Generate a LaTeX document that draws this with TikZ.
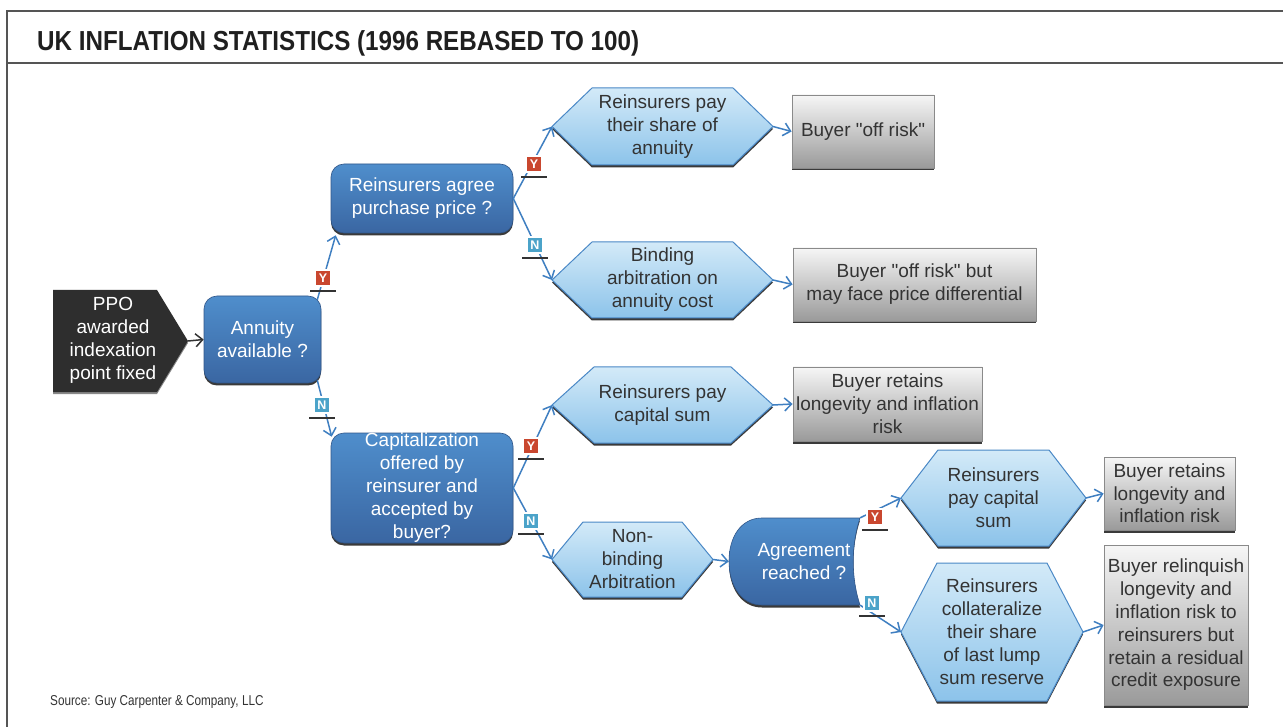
\documentclass[tikz,border=0pt]{standalone}
\usepackage{fontspec}
\setmainfont{Liberation Sans}
\newfontfamily\titlefont[FakeStretch=0.88]{Liberation Sans}
\newfontfamily\srcfont[FakeStretch=0.82]{Liberation Sans}
\usetikzlibrary{arrows.meta,shadows,calc}
\definecolor{bluetop}{HTML}{4F8ECC}
\definecolor{bluebot}{HTML}{3A66A2}
\definecolor{hextop}{HTML}{D3EAF8}
\definecolor{hexbot}{HTML}{8CC3EA}
\definecolor{hexline}{HTML}{4A88C6}
\definecolor{graytop}{HTML}{F6F6F6}
\definecolor{graybot}{HTML}{9A9A9A}
\definecolor{grayline}{HTML}{8A8A8A}
\definecolor{connc}{HTML}{3F7FC1}
\definecolor{ycol}{HTML}{C9472F}
\definecolor{ncol}{HTML}{4BA3C9}
\definecolor{txtc}{HTML}{333333}
\definecolor{framec}{HTML}{555555}
\definecolor{ppoc}{HTML}{2E2E2E}
\definecolor{shadc}{HTML}{3A3A3A}
\newcommand{\dq}{\XeTeXglyph\XeTeXcharglyph"22\relax}
\tikzset{
  maintext/.style={font=\fontsize{19}{23}\selectfont, align=center},
  bluebox/.style={maintext, rectangle, rounded corners=13pt, top color=bluetop, bottom color=bluebot,
    draw=bluebot!85!black, line width=0.6pt, text=white, inner sep=0pt,
    drop shadow={shadow xshift=0pt, shadow yshift=-2.5pt, fill=shadc, opacity=1}},
  graybox/.style={maintext, rectangle, top color=graytop, bottom color=graybot, draw=grayline,
    line width=0.8pt, text=txtc, inner sep=0pt,
    drop shadow={shadow xshift=0pt, shadow yshift=-2.5pt, fill=shadc, opacity=1}},
  hexfill/.style={top color=hextop, bottom color=hexbot, draw=hexline, line width=1pt},
  hextext/.style={maintext, text=txtc, inner sep=0pt},
  conn/.style={draw=connc, line width=1.5pt, -{Straight Barb[length=7pt,width=13pt]}},
  pconn/.style={draw=txtc, line width=1.5pt, -{Straight Barb[length=7pt,width=13pt]}},
  ynbox/.style={minimum size=16pt, inner sep=0pt, text=white,
    font=\bfseries\fontsize{12.5}{12.5}\selectfont, draw=white, line width=1.2pt,
    drop shadow={shadow xshift=1pt, shadow yshift=-1pt, fill=black!25, opacity=1}},
  ulst/.style={draw=txtc, line width=2.2pt},
}
% hexagon: name, xleft, xright, ytop, ybottom, slant, text
\newcommand{\hexagonbox}[7]{%
  \fill[shadc] ({#2},{(#4+#5)/2+2.5}) -- ({#2+#6},{#5+2.5}) -- ({#3-#6},{#5+2.5})
     -- ({#3},{(#4+#5)/2+2.5}) -- ({#3-#6},{#4+2.5}) -- ({#2+#6},{#4+2.5}) -- cycle;
  \shadedraw[hexfill] ({#2},{(#4+#5)/2}) -- ({#2+#6},{#4}) -- ({#3-#6},{#4})
     -- ({#3},{(#4+#5)/2}) -- ({#3-#6},{#5}) -- ({#2+#6},{#5}) -- cycle;
  \node[hextext] (#1) at ({(#2+#3)/2},{(#4+#5)/2}) {#7};
  \coordinate (#1w) at ({#2},{(#4+#5)/2});
  \coordinate (#1e) at ({#3},{(#4+#5)/2});
}
% Y/N label: name, letter, colour, x, y
\newcommand{\ynlabel}[5]{%
  \node[ynbox, fill=#3] (#1) at (#4,#5) {#2};
  \draw[ulst] ([xshift=-13pt,yshift=-4.5pt]#1.south) -- ([xshift=13pt,yshift=-4.5pt]#1.south);
}
\begin{document}
\begin{tikzpicture}[x=1pt,y=-1pt]
\useasboundingbox (0,0) rectangle (1283,727);
\fill[white] (0,0) rectangle (1283,727);
% frame
\draw[framec, line width=1.5pt] (1284,11) -- (7,11) -- (7,728);
\draw[framec, line width=1.2pt] (7,63) -- (1284,63);
\node[anchor=base west, inner sep=0pt, text=black!88,
  font=\titlefont\bfseries\fontsize{27.5}{30}\selectfont] (title) at (37,51)
  {UK INFLATION STATISTICS (1996 REBASED TO 100)};
\node[anchor=base west, inner sep=0pt, text=txtc,
  font=\srcfont\fontsize{14.3}{16}\selectfont] (source) at (50,705)
  {Source: Guy Carpenter \& Company, LLC};

% PPO
\fill[shadc!60] (53,292) -- (157,292) -- (188,343) -- (157,394) -- (53,394) -- cycle;
\fill[ppoc] (53,290) -- (157,290) -- (188,341) -- (157,392) -- (53,392) -- cycle;
\node[maintext, text=white, inner sep=0pt] (ppo) at (113,340) {PPO\\awarded\\indexation\\point fixed};
\coordinate (ppotip) at (188,341);

% blue decision boxes
\node[bluebox, minimum width=117pt, minimum height=87pt] (annuity) at (262.5,339.5) {Annuity\\available ?};
\node[bluebox, minimum width=182pt, minimum height=69pt] (agree) at (422,198.5) {Reinsurers agree\\purchase price ?};
\node[bluebox, minimum width=182pt, minimum height=110pt] (cap) at (422,488) {Capitalization\\offered by\\reinsurer and\\accepted by\\buyer?};

% agreement reached shape
\fill[shadc] (860,520.5) .. controls (851,547.5) and (851,580.5) .. (860,607.5) -- (762,607.5)
  .. controls (741,607.5) and (729,587.5) .. (729,563.5) .. controls (729,539.5) and (741,520.5) .. (762,520.5) -- cycle;
\shadedraw[top color=bluetop, bottom color=bluebot, draw=bluebot!85!black, line width=0.6pt]
  (860,518) .. controls (851,545) and (851,578) .. (860,605) -- (762,605)
  .. controls (741,605) and (729,585) .. (729,561) .. controls (729,537) and (741,518) .. (762,518) -- cycle;
\node[minimum width=131pt, minimum height=87pt, inner sep=0pt] (agr) at (794.5,561.5) {};
\node[maintext, text=white, inner sep=0pt] (agrtext) at (804,561.5) {Agreement\\reached ?};

% hexagons
\hexagonbox{hA}{552}{773}{88}{165}{40}{Reinsurers pay\\their share of\\annuity}
\hexagonbox{hB}{552}{773}{242}{318}{40}{Binding\\arbitration on\\annuity cost}
\hexagonbox{hC}{552}{773}{367}{443}{42}{Reinsurers pay\\capital sum}
\hexagonbox{hD}{552}{713}{522}{597}{31}{Non-\\binding\\Arbitration}
\hexagonbox{hE}{901}{1086}{450}{546}{37}{Reinsurers\\pay capital\\sum}
\hexagonbox{hF}{901}{1083}{563}{701}{36}{Reinsurers\\collateralize\\their share\\of last lump\\sum reserve}

% outcome boxes
\node[graybox, minimum width=142pt, minimum height=73pt] (bA) at (863,131.5) {Buyer \dq off risk\dq};
\node[graybox, minimum width=243pt, minimum height=73pt] (bB) at (914.5,284.5) {Buyer \dq off risk\dq\ but\\may face price differential};
\node[graybox, minimum width=189pt, minimum height=74pt] (bC) at (887.5,404) {Buyer retains\\longevity and inflation\\risk};
\node[graybox, minimum width=131pt, minimum height=73pt, font=\fontsize{19}{22.5}\selectfont] (bE) at (1169.5,493.5) {Buyer retains\\longevity and\\inflation risk};
\node[graybox, minimum width=144pt, minimum height=160pt, font=\fontsize{19}{22.8}\selectfont] (bF) at (1176,625) {Buyer relinquish\\longevity and\\inflation risk to\\reinsurers but\\retain a residual\\credit exposure};

% connectors
\draw[pconn] (ppotip) -- (annuity.west);
\draw[conn] ($(annuity.north east)+(-4,4)$) -- ($(agree.south west)+(5,2)$);
\draw[conn] ($(annuity.south east)+(-4,-3)$) -- ($(cap.north west)+(1,4)$);
\draw[conn] (agree.east) -- (hAw);
\draw[conn] (agree.east) -- (hBw);
\draw[conn] (cap.east) -- (hCw);
\draw[conn] (cap.east) -- (hDw);
\draw[conn] (hDe) -- (agr.west);
\draw[conn] (agr.north east) -- (hEw);
\draw[conn] (agr.south east) -- (hFw);
\draw[conn] (hAe) -- (bA.west);
\draw[conn] (hBe) -- (bB.west);
\draw[conn] (hCe) -- (bC.west);
\draw[conn] (hEe) -- (bE.west);
\draw[conn] (hFe) -- (bF.west);

% Y / N labels
\ynlabel{aY}{Y}{ycol}{323}{278}
\ynlabel{aN}{N}{ncol}{322}{405}
\ynlabel{gY}{Y}{ycol}{534}{164}
\ynlabel{gN}{N}{ncol}{535}{245}
\ynlabel{cY}{Y}{ycol}{531}{446}
\ynlabel{cN}{N}{ncol}{531}{521}
\ynlabel{rY}{Y}{ycol}{875}{517}
\ynlabel{rN}{N}{ncol}{872}{603}
\end{tikzpicture}
\end{document}
